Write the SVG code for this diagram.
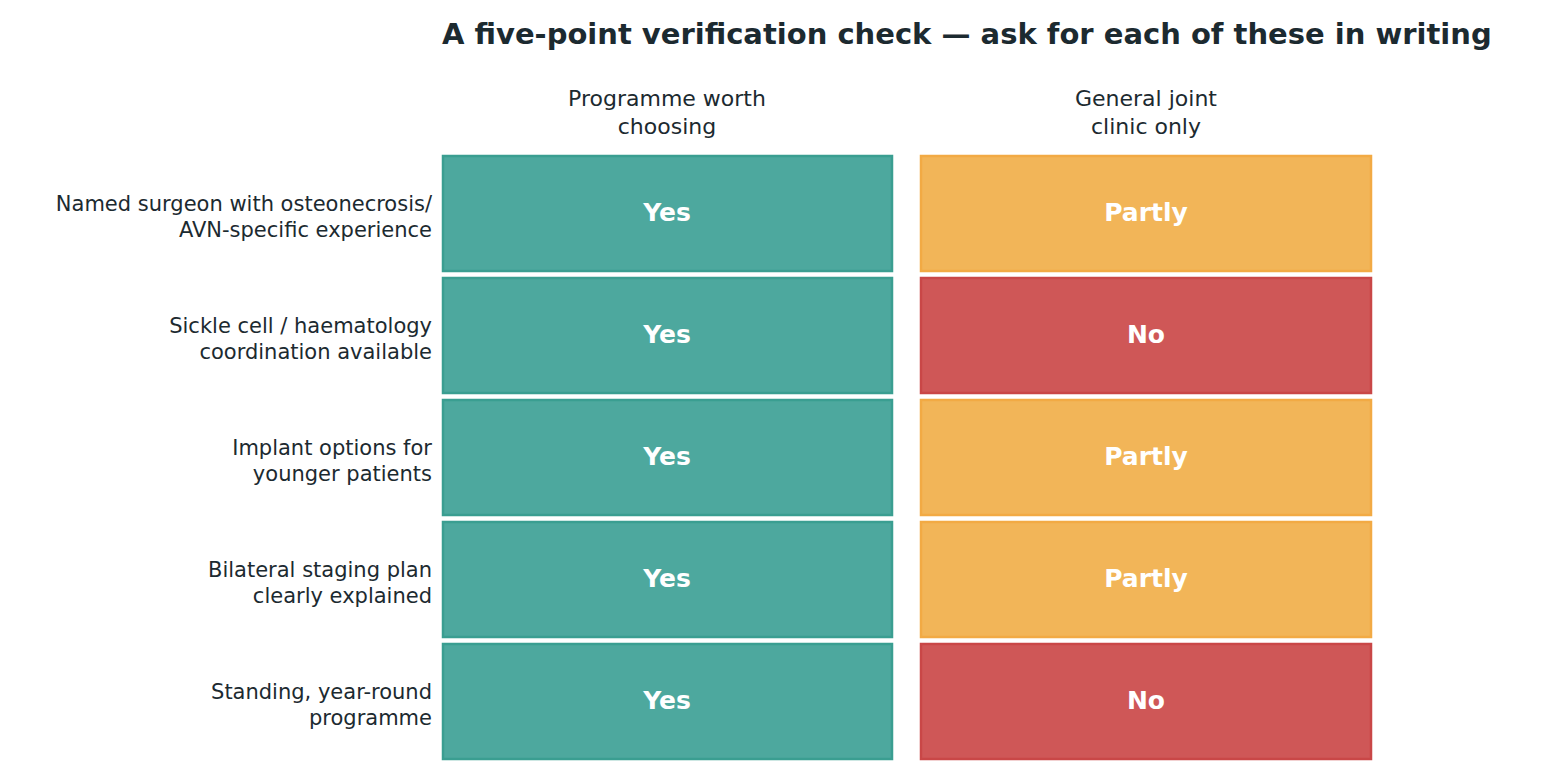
<svg xmlns="http://www.w3.org/2000/svg" width="1566" height="779" viewBox="0 0 1566 779">
<style>
text{font-family:"DejaVu Sans",sans-serif;fill:#1c2a30}
.t{font-size:29px;font-weight:bold}
.h{font-size:22px;text-anchor:middle}
.l{font-size:21px;text-anchor:end}
.v{font-size:25px;font-weight:bold;fill:#fff;text-anchor:middle}
.g{fill:#4da89e;stroke:#3a9e91;stroke-width:2.5}
.o{fill:#f2b558;stroke:#f2aa44;stroke-width:2.5}
.r{fill:#cf5757;stroke:#c94747;stroke-width:2.5}
</style>
<rect width="1566" height="779" fill="#fff"/>
<text class="t" x="442" y="44">A five-point verification check — ask for each of these in writing</text>
<text class="h" x="667" y="106">Programme worth</text><text class="h" x="667" y="134">choosing</text>
<text class="h" x="1146" y="106">General joint</text><text class="h" x="1146" y="134">clinic only</text>
<g id="labels">
<text class="l" x="432" y="211">Named surgeon with osteonecrosis/</text><text class="l" x="432" y="237">AVN-specific experience</text>
<text class="l" x="432" y="333">Sickle cell / haematology</text><text class="l" x="432" y="359">coordination available</text>
<text class="l" x="432" y="455">Implant options for</text><text class="l" x="432" y="481">younger patients</text>
<text class="l" x="432" y="577">Bilateral staging plan</text><text class="l" x="432" y="603">clearly explained</text>
<text class="l" x="432" y="699">Standing, year-round</text><text class="l" x="432" y="725">programme</text>
</g>
<g id="r1"><rect class="g" x="443" y="156" width="449" height="115"/><text class="v" x="667" y="221">Yes</text><rect class="o" x="921" y="156" width="450" height="115"/><text class="v" x="1146" y="221">Partly</text></g>
<g id="r2"><rect class="g" x="443" y="278" width="449" height="115"/><text class="v" x="667" y="343">Yes</text><rect class="r" x="921" y="278" width="450" height="115"/><text class="v" x="1146" y="343">No</text></g>
<g id="r3"><rect class="g" x="443" y="400" width="449" height="115"/><text class="v" x="667" y="465">Yes</text><rect class="o" x="921" y="400" width="450" height="115"/><text class="v" x="1146" y="465">Partly</text></g>
<g id="r4"><rect class="g" x="443" y="522" width="449" height="115"/><text class="v" x="667" y="587">Yes</text><rect class="o" x="921" y="522" width="450" height="115"/><text class="v" x="1146" y="587">Partly</text></g>
<g id="r5"><rect class="g" x="443" y="644" width="449" height="115"/><text class="v" x="667" y="709">Yes</text><rect class="r" x="921" y="644" width="450" height="115"/><text class="v" x="1146" y="709">No</text></g>
<g id="connectors"/>
</svg>
